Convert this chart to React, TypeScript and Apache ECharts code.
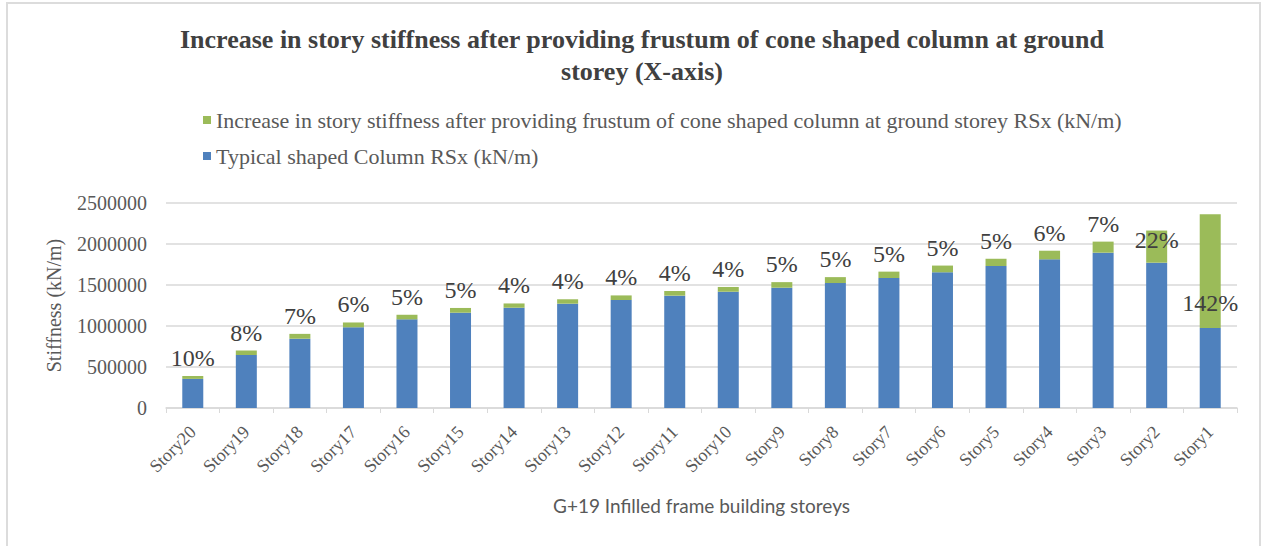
import React, { useEffect, useRef } from "react";
import * as echarts from "echarts";

const categories = [
  "Story20", "Story19", "Story18", "Story17", "Story16", "Story15", "Story14",
  "Story13", "Story12", "Story11", "Story10", "Story9", "Story8", "Story7",
  "Story6", "Story5", "Story4", "Story3", "Story2", "Story1",
];

const typicalRSx = [
  355000, 646000, 845000, 984000, 1081000, 1162000, 1223000, 1272000, 1317000,
  1370000, 1418000, 1467000, 1524000, 1585000, 1655000, 1732000, 1813000,
  1894000, 1772000, 976000,
];

const increaseRSx = [
  35000, 54000, 59000, 59000, 56000, 58000, 52000, 54000, 56000, 57000, 58000,
  68000, 72000, 78000, 82000, 88000, 105000, 135000, 392000, 1386000,
];

const percentLabels = [
  "10%", "8%", "7%", "6%", "5%", "5%", "4%", "4%", "4%", "4%", "4%", "5%",
  "5%", "5%", "5%", "5%", "6%", "7%", "22%", "142%",
];

const yTicks = { min: 0, max: 2500000, interval: 500000 };

const seriesNames = {
  increase:
    "Increase in story stiffness after providing frustum of cone shaped column at ground storey RSx (kN/m)",
  typical: "Typical shaped Column RSx (kN/m)",
};

const titleText =
  "Increase in story stiffness after providing frustum of cone shaped column at ground\nstorey (X-axis)";
const xAxisName = "G+19 Infilled frame building storeys";
const yAxisName = "Stiffness (kN/m)";

const SERIF = "Liberation Serif";

export default function App() {
  const ref = useRef<HTMLDivElement>(null);

  useEffect(() => {
    if (!ref.current) return;
    const chart = echarts.init(ref.current, null, { renderer: "svg" });

    const increaseData = increaseRSx.map((v, i) => {
      if (categories[i] === "Story2") {
        return { value: v, label: { position: "insideTop", distance: 0, offset: [0, -3] } };
      }
      if (categories[i] === "Story1") {
        return { value: v, label: { position: "insideBottom", distance: 13 } };
      }
      return v;
    });

    chart.setOption({
      animation: false,
      backgroundColor: "#ffffff",
      graphic: [
        {
          type: "rect",
          shape: { x: 7, y: 3, width: 1253, height: 560 },
          style: { fill: "none", stroke: "#dcdcdc", lineWidth: 2 },
          silent: true,
        },
      ],
      title: {
        text: titleText,
        left: 637,
        top: 18,
        textAlign: "center",
        textStyle: {
          fontFamily: SERIF,
          fontSize: 26,
          fontWeight: "bold",
          lineHeight: 32,
          color: "#404040",
        },
      },
      legend: {
        orient: "vertical",
        left: 198,
        top: 104,
        itemWidth: 8,
        itemHeight: 8,
        itemGap: 14,
        icon: "rect",
        data: [seriesNames.increase, seriesNames.typical],
        textStyle: { fontFamily: SERIF, fontSize: 22, lineHeight: 22, color: "#595959" },
      },
      grid: { left: 166, right: 28, top: 203, bottom: 138, containLabel: false },
      xAxis: {
        type: "category",
        data: categories,
        axisLine: { lineStyle: { color: "#d9d9d9", width: 1.5 } },
        axisTick: { show: true, length: 5, lineStyle: { color: "#d9d9d9" } },
        axisLabel: {
          rotate: 45,
          fontFamily: SERIF,
          fontSize: 18,
          color: "#595959",
          margin: 21,
          interval: 0,
        },
        name: xAxisName,
        nameLocation: "middle",
        nameGap: 88,
        nameTextStyle: { fontFamily: "Lato", fontSize: 19, color: "#595959" },
      },
      yAxis: {
        type: "value",
        min: yTicks.min,
        max: yTicks.max,
        interval: yTicks.interval,
        axisLine: { show: false },
        axisTick: { show: false },
        splitLine: { lineStyle: { color: "#d9d9d9", width: 1.5 } },
        axisLabel: {
          fontFamily: SERIF,
          fontSize: 20,
          color: "#595959",
          margin: 19,
          formatter: (v: number) => String(v),
        },
        name: yAxisName,
        nameLocation: "middle",
        nameGap: 102,
        nameTextStyle: { fontFamily: SERIF, fontSize: 20, color: "#595959" },
      },
      series: [
        {
          name: seriesNames.typical,
          type: "bar",
          stack: "total",
          barWidth: 21,
          data: typicalRSx,
          itemStyle: { color: "#4f81bd" },
        },
        {
          name: seriesNames.increase,
          type: "bar",
          stack: "total",
          barWidth: 21,
          data: increaseData,
          itemStyle: { color: "#9bbb59" },
          label: {
            show: true,
            position: "top",
            distance: 6,
            fontFamily: SERIF,
            fontSize: 24,
            color: "#404040",
            formatter: (p: any) => percentLabels[p.dataIndex],
          },
        },
      ],
    });

    return () => chart.dispose();
  }, []);

  return (
    <div
      ref={ref}
      style={{ position: "absolute", left: 0, top: 0, width: 1265, height: 546, background: "#fff" }}
    />
  );
}
